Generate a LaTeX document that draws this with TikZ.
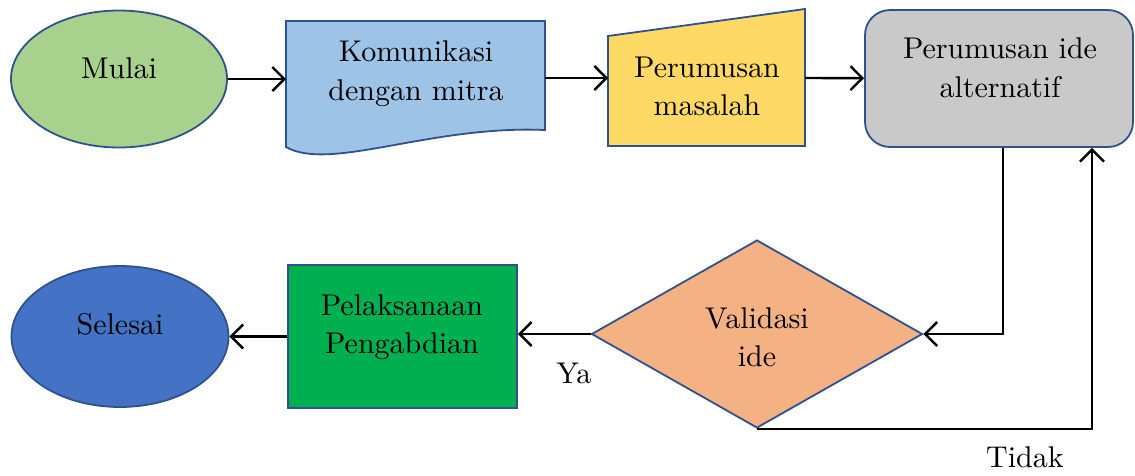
\documentclass[tikz,border=0pt]{standalone}
\usepackage{fontspec}
\setmainfont{lmroman10-regular}[Extension=.otf]
\usepackage{tikz}
\usetikzlibrary{shapes.geometric,arrows.meta}

\definecolor{edgeblue}{HTML}{2F528F}
\definecolor{mulaigreen}{HTML}{A9D18E}
\definecolor{komblue}{HTML}{9DC3E6}
\definecolor{pmyellow}{HTML}{FFD966}
\definecolor{idegray}{HTML}{C9C9C9}
\definecolor{valorange}{HTML}{F4B183}
\definecolor{pelgreen}{HTML}{00B050}
\definecolor{selblue}{HTML}{4472C4}

\begin{document}
\begin{tikzpicture}[x=1pt, y=-1pt,
    box/.style={draw=edgeblue, line width=1.8pt},
    txt/.style={align=center, inner sep=0pt, font=\fontsize{30}{38.5}\selectfont},
    flow/.style={line width=2.4pt, -{Straight Barb[length=12pt, width=24pt]}}]
    % Canvas (fixes the margins)
    \useasboundingbox (0,0) rectangle (1135,475);

    % Start (Mulai)
    \node[box, ellipse, fill=mulaigreen, minimum width=216pt, minimum height=137pt] (mulai) at (119,79) {};
    \node[txt] (mulaiText) at (119,68) {Mulai};

    % Communication with partner (document shape)
    \draw[box, fill=komblue] (286,21) -- (545,21) -- (545,130) .. controls (430,125) and (330,172) .. (286,147) -- cycle;
    \coordinate (komIn) at (286,79);
    \coordinate (komOut) at (545,78);
    \node[txt] (komText) at (416,73.5) {Komunikasi\\dengan mitra};

    % Problem formulation (manual input shape)
    \draw[box, fill=pmyellow] (608,36) -- (805,9) -- (805,146) -- (608,146) -- cycle;
    \coordinate (pmIn) at (608,78);
    \coordinate (pmOut) at (805,78);
    \node[txt] (pmText) at (707,86.5) {Perumusan\\masalah};

    % Alternative ideas
    \node[box, rectangle, rounded corners=25pt, fill=idegray, minimum width=268pt, minimum height=137pt] (ide) at (999,78.5) {};
    \node[txt] (ideText) at (1000,67.5) {Perumusan ide\\alternatif};

    % Decision
    \node[box, diamond, inner sep=0pt, fill=valorange, minimum width=331pt, minimum height=188pt] (val) at (757,334) {};
    \node[txt] (valText) at (757,337) {Validasi\\ide};

    % Implementation
    \node[box, rectangle, fill=pelgreen, minimum width=229pt, minimum height=143pt] (pel) at (402.5,336.5) {};
    \node[txt] (pelText) at (402,327) {Pelaksanaan\\Pengabdian};

    % End (Selesai)
    \node[box, ellipse, fill=selblue, minimum width=217pt, minimum height=141pt] (sel) at (120,336.5) {};
    \node[txt] (selText) at (120,324.5) {Selesai};

    % Connectors
    \draw[flow] (mulai) -- (komIn);
    \draw[flow] (komOut) -- (pmIn);
    \draw[flow] (pmOut) -- (ide);
    \draw[flow] ([xshift=4pt]ide.south) |- (val.east);
    \draw[flow] (val.south) -| ([xshift=93pt]ide.south) node[txt, pos=0.4, below=17pt] {Tidak};
    \draw[flow] (val.west) -- (val.west -| pel.east) node[txt, pos=0.23, below=28pt] {Ya};
    \draw[flow] (pel) -- (sel);
\end{tikzpicture}
\end{document}
